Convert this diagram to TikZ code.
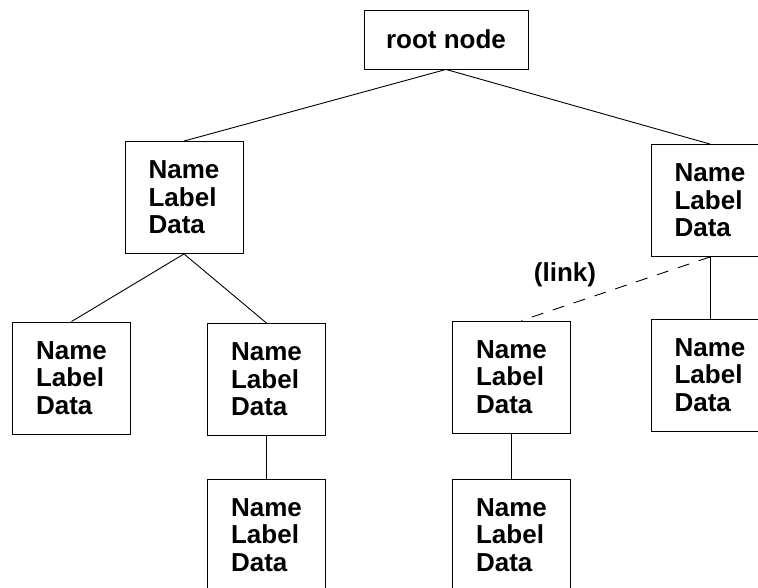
\documentclass[tikz,border=0pt]{standalone}
\usepackage{fontspec}
\setmainfont{Liberation Sans}
\usetikzlibrary{positioning}

\begin{document}
\begin{tikzpicture}[
    x=1pt, y=-1pt,
    treenode/.style={rectangle, draw=black, line width=0.9pt, minimum width=118pt, minimum height=112pt, align=left, inner sep=0pt, font=\fontsize{26}{27.5}\selectfont\bfseries},
    rootbox/.style={treenode, minimum width=164pt, minimum height=59pt},
    edge/.style={line width=0.9pt},
    linkedge/.style={edge, dash pattern=on 12pt off 10pt},
    label/.style={font=\fontsize{26}{27.5}\selectfont\bfseries}
]
\useasboundingbox (0,0) rectangle (758,588);

% Root
\node[rootbox] (root) at (446, 39.5) {root node};

% First level
\node[treenode] (left) at (184, 197.5) {Name\\Label\\Data};
\node[treenode] (right) at (710, 200.5) {Name\\Label\\Data};

% Second level
\node[treenode] (leftA) at (71.5, 378) {Name\\Label\\Data};
\node[treenode] (leftB) at (266.5, 379.5) {Name\\Label\\Data};
\node[treenode] (linked) at (511.5, 377) {Name\\Label\\Data};
\node[treenode] (rightA) at (710, 375) {Name\\Label\\Data};

% Third level
\node[treenode] (leftBchild) at (266.5, 535) {Name\\Label\\Data};
\node[treenode] (linkedchild) at (511.5, 535) {Name\\Label\\Data};

% Connectors
\draw[edge] (root.south) -- (left.north);
\draw[edge] (root.south) -- (right.north);
\draw[edge] (left.south) -- (leftA.north);
\draw[edge] (left.south) -- (leftB.north);
\draw[edge] (right.south) -- (rightA.north);
\draw[edge] (leftB.south) -- (leftBchild.north);
\draw[edge] (linked.south) -- (linkedchild.north);

% Link
\draw[linkedge] (right.south) -- ([xshift=10pt]linked.north);
\node[label] (linklabel) at (565, 275) {(link)};

\end{tikzpicture}
\end{document}
